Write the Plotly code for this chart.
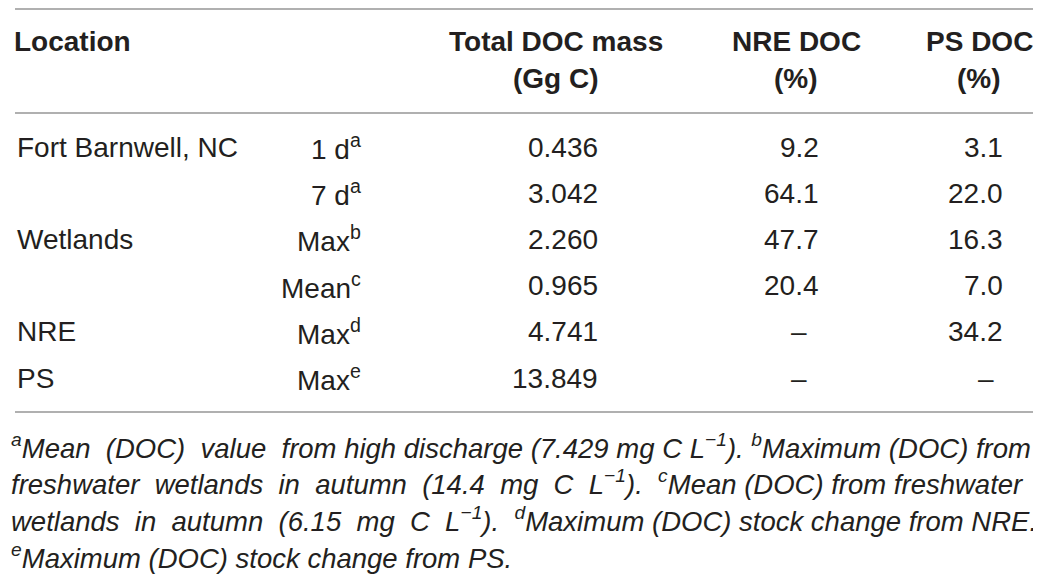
import plotly.graph_objects as go

# table content
locations = ["Fort Barnwell, NC", "", "Wetlands", "", "NRE", "PS"]
sub_labels = ["1 d<sup>a</sup>", "7 d<sup>a</sup>", "Max<sup>b</sup>", "Mean<sup>c</sup>",
              "Max<sup>d</sup>", "Max<sup>e</sup>"]
total_mass = ["0.436", "3.042", "2.260", "0.965", "4.741", "13.849"]
nre_pct = ["9.2", "64.1", "47.7", "20.4", "–", "–"]
ps_pct = ["3.1", "22.0", "16.3", "7.0", "34.2", "–"]
header_top = ["Location", "Total DOC mass", "NRE DOC", "PS DOC"]
header_bottom = ["", "(Gg C)", "(%)", "(%)"]
footnotes = [
    "<sup>a</sup>Mean (DOC) value from high discharge (7.429 mg C L<sup>−1</sup>). <sup>b</sup>Maximum (DOC) from",
    "freshwater wetlands in autumn (14.4 mg C L<sup>−1</sup>). <sup>c</sup>Mean (DOC) from freshwater",
    "wetlands in autumn (6.15 mg C L<sup>−1</sup>). <sup>d</sup>Maximum (DOC) stock change from NRE.",
    "<sup>e</sup>Maximum (DOC) stock change from PS.",
]

W, H = 1041, 580
OFF = 8  # page body margin; axes are set so that axis units equal screen pixels
FONT = "Liberation Sans, Arial, sans-serif"
TXT = "#231f20"
row_y0, row_h = 147, 46.2
foot_y0, foot_h = 446, 36.7
extra_spaces = [3, 8, 7, 0]  # rough justification of the footnote lines

fig = go.Figure()
fig.add_trace(go.Scatter(x=[OFF, W], y=[OFF, H], mode="markers", marker=dict(opacity=0),
                         hoverinfo="skip", showlegend=False))

# horizontal rules
for y in [9, 113, 412]:
    fig.add_shape(type="line", x0=15, x1=1033, y0=y, y1=y, xref="x", yref="y",
                  line=dict(color="#b0b0b0", width=2))


def cell(x, y, text, anchor, size=28, bold=False, italic=False):
    if bold:
        text = f"<b>{text}</b>"
    if italic:
        text = f"<i>{text}</i>"
    fig.add_annotation(x=x, y=y, xref="x", yref="y", text=text, showarrow=False,
                       xanchor=anchor, yanchor="middle", align=anchor,
                       font=dict(family=FONT, size=size, color=TXT))


# header
cell(12, 41, header_top[0], "left", bold=True)
for xc, top, bot in zip([556, 796, 979], header_top[1:], header_bottom[1:]):
    cell(xc, 41, top, "center", bold=True)
    cell(xc, 78, bot, "center", bold=True)

# body rows
for i in range(len(locations)):
    y = row_y0 + i * row_h
    if locations[i]:
        cell(15, y, locations[i], "left")
    cell(363, y, sub_labels[i], "right")
    cell(600, y, total_mass[i], "right")
    if nre_pct[i] == "–":
        cell(799, y, nre_pct[i], "center")
    else:
        cell(821, y, nre_pct[i], "right")
    if ps_pct[i] == "–":
        cell(986, y, ps_pct[i], "center")
    else:
        cell(1005, y, ps_pct[i], "right")

# footnotes
for j, t in enumerate(footnotes):
    parts = t.split(" ")
    n = extra_spaces[j]
    t = "".join(p + (" \u00a0" if k < n else " ") for k, p in enumerate(parts[:-1])) + parts[-1]
    cell(OFF + 0.5, foot_y0 + j * foot_h, t, "left", size=27.5, italic=True)

fig.update_xaxes(range=[OFF, W], visible=False, fixedrange=True)
fig.update_yaxes(range=[H, OFF], visible=False, fixedrange=True)
fig.update_layout(width=W - OFF, height=H - OFF, margin=dict(l=0, r=0, t=0, b=0),
                  plot_bgcolor="white", paper_bgcolor="white", showlegend=False)

fig.write_html("out.html")
